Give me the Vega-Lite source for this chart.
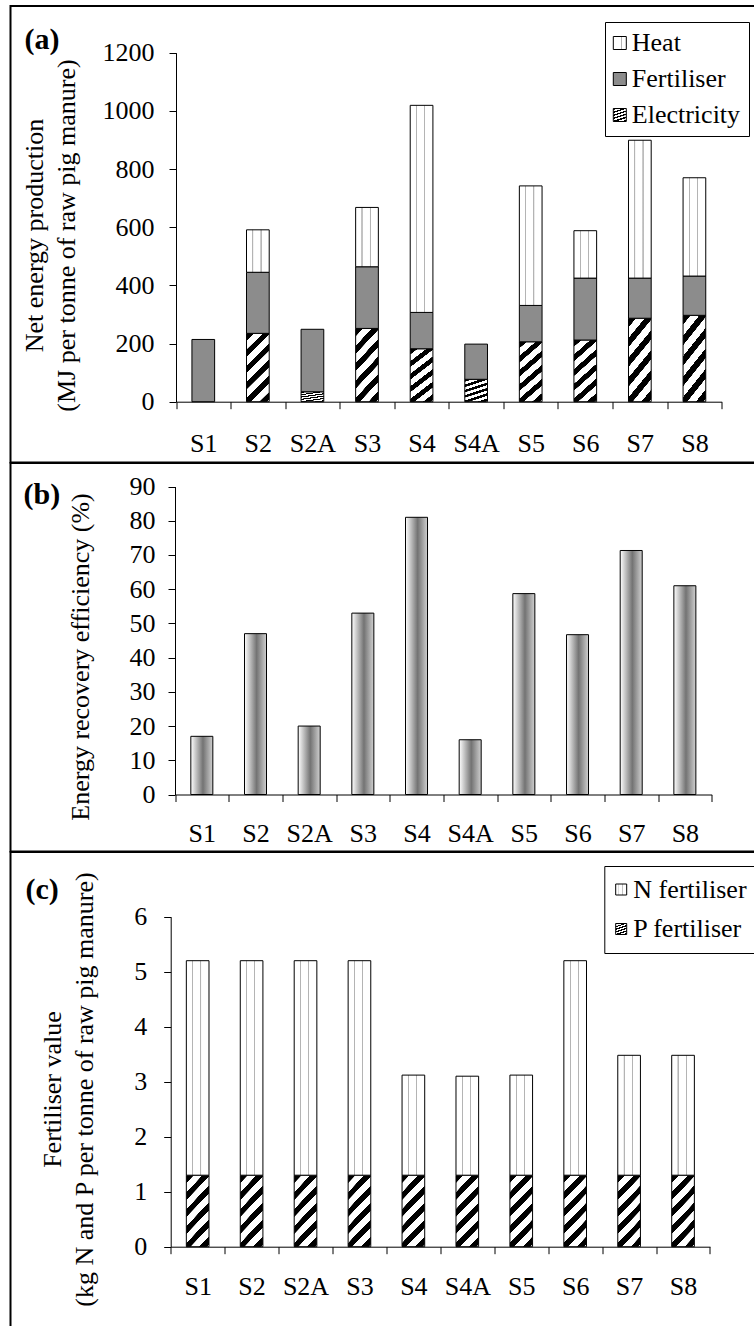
{
  "$schema": "https://vega.github.io/schema/vega-lite/v6.json",
  "background": "white",
  "padding": {"left": 9.5, "top": 5, "right": -5.5, "bottom": -3},
  "spacing": 0,
  "bounds": "flush",
  "resolve": {"scale": {"fill": "independent"}, "legend": {"fill": "independent"}},
  "config": {
    "font": "Liberation Serif",
    "style": {
      "guide-label": {"font": "Liberation Serif"},
      "guide-title": {"font": "Liberation Serif"}
    },
    "axis": {
      "labelFont": "Liberation Serif",
      "titleFont": "Liberation Serif",
      "labelFontSize": 26,
      "titleFontSize": 26,
      "titleFontWeight": "normal",
      "labelColor": "black",
      "titleColor": "black",
      "domainColor": "black",
      "domainWidth": 1,
      "tickColor": "black",
      "tickWidth": 1,
      "tickSize": 7,
      "grid": false
    },
    "legend": {
      "labelFont": "Liberation Serif",
      "labelFontSize": 26,
      "labelColor": "black",
      "labelLimit": 400
    },
    "title": {"font": "Liberation Serif", "fontSize": 30, "fontWeight": "bold", "color": "black"}
  },
  "vconcat": [
    {
      "width": 747,
      "height": 456.5,
      "view": {"stroke": "black", "strokeWidth": 2},
      "title": {"text": "(a)", "anchor": "start", "frame": "group", "orient": "top", "offset": -64, "dx": 14, "baseline": "middle"},
      "data": {
        "values": [
          {"scenario": "S1", "component": "Fertiliser", "mj": 214},
          {"scenario": "S2", "component": "Electricity", "mj": 235},
          {"scenario": "S2", "component": "Fertiliser", "mj": 210},
          {"scenario": "S2", "component": "Heat", "mj": 146},
          {"scenario": "S2A", "component": "Electricity", "mj": 34},
          {"scenario": "S2A", "component": "Fertiliser", "mj": 215},
          {"scenario": "S3", "component": "Electricity", "mj": 252},
          {"scenario": "S3", "component": "Fertiliser", "mj": 212},
          {"scenario": "S3", "component": "Heat", "mj": 204},
          {"scenario": "S4", "component": "Electricity", "mj": 182},
          {"scenario": "S4", "component": "Fertiliser", "mj": 125},
          {"scenario": "S4", "component": "Heat", "mj": 712},
          {"scenario": "S4A", "component": "Electricity", "mj": 77},
          {"scenario": "S4A", "component": "Fertiliser", "mj": 121},
          {"scenario": "S5", "component": "Electricity", "mj": 206},
          {"scenario": "S5", "component": "Fertiliser", "mj": 125},
          {"scenario": "S5", "component": "Heat", "mj": 411},
          {"scenario": "S6", "component": "Electricity", "mj": 212},
          {"scenario": "S6", "component": "Fertiliser", "mj": 213},
          {"scenario": "S6", "component": "Heat", "mj": 163},
          {"scenario": "S7", "component": "Electricity", "mj": 287},
          {"scenario": "S7", "component": "Fertiliser", "mj": 138},
          {"scenario": "S7", "component": "Heat", "mj": 474},
          {"scenario": "S8", "component": "Electricity", "mj": 297},
          {"scenario": "S8", "component": "Fertiliser", "mj": 135},
          {"scenario": "S8", "component": "Heat", "mj": 338}
        ]
      },
      "mark": {"type": "bar", "width": {"band": 0.416}, "stroke": "black", "strokeWidth": 1},
      "encoding": {
        "x": {
          "field": "scenario", "type": "nominal", "sort": null,
          "scale": {"range": [165.5, 711.2], "paddingInner": 0, "paddingOuter": 0},
          "axis": {"orient": "bottom", "offset": -60.8, "title": null, "labelAngle": 0, "tickBand": "extent", "labelPadding": 21.5, "labelFont": "Liberation Serif"}
        },
        "y": {
          "field": "mj", "type": "quantitative", "stack": "zero",
          "scale": {"domain": [0, 1200], "range": [395.7, 46.7], "nice": false},
          "axis": {
            "orient": "left", "offset": -165.5, "values": [0, 200, 400, 600, 800, 1000, 1200], "format": "d",
            "labelFont": "Liberation Serif", "labelPadding": 15,
            "titleX": -133.3, "titleY": 229, "titleBaseline": "alphabetic", "titleAlign": "center", "titleAngle": 270, "titleLineHeight": 32,
            "title": ["Net energy production", "(MJ per tonne of raw pig manure)"]
          }
        },
        "fill": {
          "field": "component", "type": "nominal",
          "scale": {
            "domain": ["Heat", "Fertiliser", "Electricity"],
            "range": [
              {"expr": "{gradient:'linear',x1:0,y1:0,x2:1,y2:0,stops:[{offset:0,color:'#fff'},{offset:0.25,color:'#fff'},{offset:0.26,color:'#b4b4b4'},{offset:0.3,color:'#b4b4b4'},{offset:0.31,color:'#fff'},{offset:0.61,color:'#fff'},{offset:0.62,color:'#b4b4b4'},{offset:0.66,color:'#b4b4b4'},{offset:0.67,color:'#fff'},{offset:1,color:'#fff'}]}"},
              "#8c8c8c",
              {"expr": "{gradient:'linear',x1:0,y1:0,x2:0.395,y2:1.199,stops:[{offset:0,color:'#000'},{offset:0.08,color:'#000'},{offset:0.084,color:'#fff'},{offset:0.177,color:'#fff'},{offset:0.179,color:'#000'},{offset:0.259,color:'#000'},{offset:0.263,color:'#fff'},{offset:0.355,color:'#fff'},{offset:0.357,color:'#000'},{offset:0.437,color:'#000'},{offset:0.441,color:'#fff'},{offset:0.534,color:'#fff'},{offset:0.536,color:'#000'},{offset:0.616,color:'#000'},{offset:0.62,color:'#fff'},{offset:0.712,color:'#fff'},{offset:0.714,color:'#000'},{offset:0.795,color:'#000'},{offset:0.799,color:'#fff'},{offset:0.891,color:'#fff'},{offset:0.893,color:'#000'},{offset:0.973,color:'#000'},{offset:0.977,color:'#fff'},{offset:1,color:'#fff'}]}"}
            ]
          },
          "legend": {
            "orient": "none", "legendX": 594.5, "legendY": 16, "title": null,
            "symbolType": "square", "symbolSize": 169, "symbolStrokeColor": "black", "symbolStrokeWidth": 1,
            "symbolOffset": -6.2, "labelFont": "Liberation Serif", "labelOffset": -1, "rowPadding": 10, "padding": 8,
            "strokeColor": "black", "fillColor": "white",
            "encode": {"labels": {"font": {"value": "Liberation Serif"}}}
          }
        },
        "order": {"field": "component", "sort": "ascending"}
      }
    },
    {
      "width": 747,
      "height": 388.5,
      "view": {"stroke": "black", "strokeWidth": 2},
      "title": {"text": "(b)", "anchor": "start", "frame": "group", "orient": "top", "offset": -61.5, "dx": 13, "baseline": "middle"},
      "data": {
        "values": [
          {"scenario": "S1", "efficiency": 17},
          {"scenario": "S2", "efficiency": 47},
          {"scenario": "S2A", "efficiency": 20},
          {"scenario": "S3", "efficiency": 53},
          {"scenario": "S4", "efficiency": 81},
          {"scenario": "S4A", "efficiency": 16},
          {"scenario": "S5", "efficiency": 58.7},
          {"scenario": "S6", "efficiency": 46.7},
          {"scenario": "S7", "efficiency": 71.3},
          {"scenario": "S8", "efficiency": 61}
        ]
      },
      "mark": {
        "type": "bar", "width": {"band": 0.41}, "stroke": "black", "strokeWidth": 1,
        "color": {"gradient": "linear", "x1": 0, "y1": 0, "x2": 1, "y2": 0,
          "stops": [{"offset": 0, "color": "#ffffff"}, {"offset": 0.55, "color": "#737373"}, {"offset": 1, "color": "#d0d0d0"}]}
      },
      "encoding": {
        "x": {
          "field": "scenario", "type": "nominal", "sort": null,
          "scale": {"range": [164.5, 701.2], "paddingInner": 0, "paddingOuter": 0},
          "axis": {"orient": "bottom", "offset": -57, "title": null, "labelAngle": 0, "tickBand": "extent", "labelPadding": 18.5, "labelFont": "Liberation Serif"}
        },
        "y": {
          "field": "efficiency", "type": "quantitative",
          "scale": {"domain": [0, 90], "range": [331.5, 23.5], "nice": false},
          "axis": {
            "orient": "left", "offset": -164.5, "values": [0, 10, 20, 30, 40, 50, 60, 70, 80, 90], "format": "d",
            "labelFont": "Liberation Serif", "labelPadding": 13,
            "titleX": -86.4, "titleY": 193.5, "titleBaseline": "alphabetic", "titleAlign": "center", "titleAngle": 270,
            "title": "Energy recovery efficiency (%)"
          }
        }
      }
    },
    {
      "width": 747,
      "height": 477,
      "view": {"stroke": "black", "strokeWidth": 2},
      "title": {"text": "(c)", "anchor": "start", "frame": "group", "orient": "top", "offset": -68, "dx": 15, "baseline": "middle"},
      "data": {
        "values": [
          {"scenario": "S1", "nutrient": "P fertiliser", "kg": 1.3},
          {"scenario": "S1", "nutrient": "N fertiliser", "kg": 3.9},
          {"scenario": "S2", "nutrient": "P fertiliser", "kg": 1.3},
          {"scenario": "S2", "nutrient": "N fertiliser", "kg": 3.9},
          {"scenario": "S2A", "nutrient": "P fertiliser", "kg": 1.3},
          {"scenario": "S2A", "nutrient": "N fertiliser", "kg": 3.9},
          {"scenario": "S3", "nutrient": "P fertiliser", "kg": 1.3},
          {"scenario": "S3", "nutrient": "N fertiliser", "kg": 3.9},
          {"scenario": "S4", "nutrient": "P fertiliser", "kg": 1.3},
          {"scenario": "S4", "nutrient": "N fertiliser", "kg": 1.82},
          {"scenario": "S4A", "nutrient": "P fertiliser", "kg": 1.3},
          {"scenario": "S4A", "nutrient": "N fertiliser", "kg": 1.8},
          {"scenario": "S5", "nutrient": "P fertiliser", "kg": 1.3},
          {"scenario": "S5", "nutrient": "N fertiliser", "kg": 1.82},
          {"scenario": "S6", "nutrient": "P fertiliser", "kg": 1.3},
          {"scenario": "S6", "nutrient": "N fertiliser", "kg": 3.9},
          {"scenario": "S7", "nutrient": "P fertiliser", "kg": 1.3},
          {"scenario": "S7", "nutrient": "N fertiliser", "kg": 2.18},
          {"scenario": "S8", "nutrient": "P fertiliser", "kg": 1.3},
          {"scenario": "S8", "nutrient": "N fertiliser", "kg": 2.18}
        ]
      },
      "mark": {"type": "bar", "width": {"band": 0.42}, "stroke": "black", "strokeWidth": 1},
      "encoding": {
        "x": {
          "field": "scenario", "type": "nominal", "sort": null,
          "scale": {"range": [160.2, 699.5], "paddingInner": 0, "paddingOuter": 0},
          "axis": {"orient": "bottom", "offset": -82.3, "title": null, "labelAngle": 0, "tickBand": "extent", "labelPadding": 19.8, "labelFont": "Liberation Serif"}
        },
        "y": {
          "field": "kg", "type": "quantitative", "stack": "zero",
          "scale": {"domain": [0, 6], "range": [394.7, 64.7], "nice": false},
          "axis": {
            "orient": "left", "offset": -160.2, "values": [0, 1, 2, 3, 4, 5, 6], "format": "d",
            "labelFont": "Liberation Serif", "labelPadding": 17,
            "titleX": -110.7, "titleY": 237, "titleBaseline": "alphabetic", "titleAlign": "center", "titleAngle": 270, "titleLineHeight": 32,
            "title": ["Fertiliser value", "(kg N and P per tonne of raw pig manure)"]
          }
        },
        "fill": {
          "field": "nutrient", "type": "nominal",
          "scale": {
            "domain": ["N fertiliser", "P fertiliser"],
            "range": [
              {"expr": "{gradient:'linear',x1:0,y1:0,x2:1,y2:0,stops:[{offset:0,color:'#fff'},{offset:0.25,color:'#fff'},{offset:0.26,color:'#b4b4b4'},{offset:0.3,color:'#b4b4b4'},{offset:0.31,color:'#fff'},{offset:0.61,color:'#fff'},{offset:0.62,color:'#b4b4b4'},{offset:0.66,color:'#b4b4b4'},{offset:0.67,color:'#fff'},{offset:1,color:'#fff'}]}"},
              {"expr": "{gradient:'linear',x1:0,y1:0,x2:0.395,y2:1.199,stops:[{offset:0,color:'#000'},{offset:0.08,color:'#000'},{offset:0.084,color:'#fff'},{offset:0.177,color:'#fff'},{offset:0.179,color:'#000'},{offset:0.259,color:'#000'},{offset:0.263,color:'#fff'},{offset:0.355,color:'#fff'},{offset:0.357,color:'#000'},{offset:0.437,color:'#000'},{offset:0.441,color:'#fff'},{offset:0.534,color:'#fff'},{offset:0.536,color:'#000'},{offset:0.616,color:'#000'},{offset:0.62,color:'#fff'},{offset:0.712,color:'#fff'},{offset:0.714,color:'#000'},{offset:0.795,color:'#000'},{offset:0.799,color:'#fff'},{offset:0.891,color:'#fff'},{offset:0.893,color:'#000'},{offset:0.973,color:'#000'},{offset:0.977,color:'#fff'},{offset:1,color:'#fff'}]}"}
            ]
          },
          "legend": {
            "orient": "none", "legendX": 593.8, "legendY": 14, "title": null,
            "symbolType": "square", "symbolSize": 121, "symbolStrokeColor": "black", "symbolStrokeWidth": 1,
            "symbolOffset": -6.6, "labelFont": "Liberation Serif", "labelOffset": -1, "rowPadding": 13.5, "padding": 10.5,
            "strokeColor": "black", "fillColor": "white",
            "encode": {"labels": {"font": {"value": "Liberation Serif"}}}
          }
        },
        "order": {"field": "nutrient", "sort": "descending"}
      }
    }
  ]
}
